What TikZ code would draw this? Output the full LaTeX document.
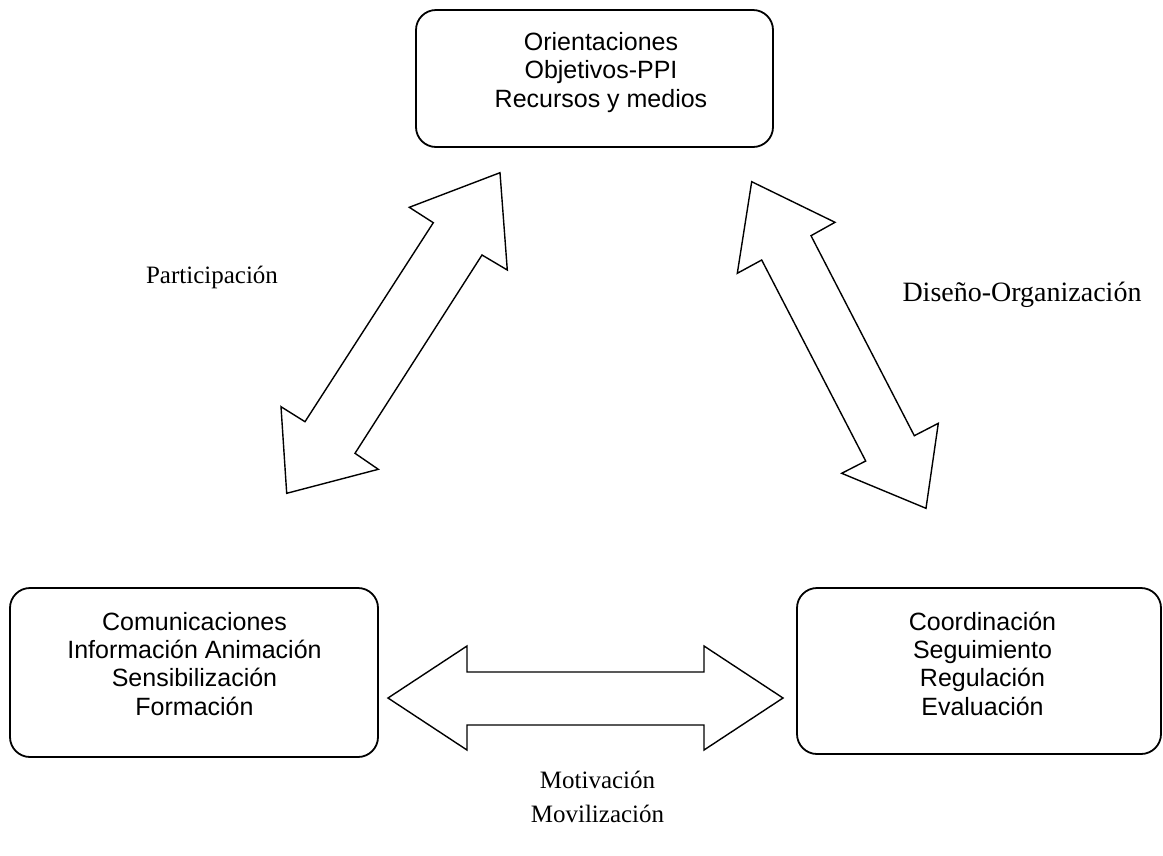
\documentclass[tikz,border=0pt]{standalone}
\usepackage{fontspec}
\setmainfont{Liberation Serif}
\setsansfont{Liberation Sans}
\begin{document}
\begin{tikzpicture}[x=1pt,y=-1pt,
  panel/.style={draw=black,line width=1.8pt,rounded corners=20pt},
  paneltext/.style={align=center,anchor=base,inner sep=0pt,
    font=\sffamily\fontsize{25}{28.2}\selectfont},
  blockarrow/.style={draw=black,line width=1.4pt,fill=white,line join=miter},
  caption/.style={anchor=base,inner sep=0pt,font=\rmfamily\fontsize{25}{34}\selectfont}]
\useasboundingbox (0,0) rectangle (1163,855);

% the three panels
\draw[panel] (416,10) rectangle (773,147);
\draw[panel] (10,588) rectangle (378,757);
\draw[panel] (797,588) rectangle (1161,754);
\coordinate (topbox) at (594.5,78.5);
\coordinate (leftbox) at (194,672.5);
\coordinate (rightbox) at (979,671);

% panel texts, placed by the baseline of their last line
\node[paneltext] (toptext) at (601,107) {Orientaciones\\Objetivos-PPI\\Recursos y medios};
\node[paneltext] (lefttext) at (194.5,715) {Comunicaciones\\Información Animación\\Sensibilización\\Formación};
\node[paneltext] (righttext) at (982.5,715) {Coordinación\\Seguimiento\\Regulación\\Evaluación};

% left diagonal double arrow
\coordinate (a1) at (500,172.7);
\coordinate (a2) at (409.3,207.3);
\coordinate (a3) at (433.3,222.7);
\coordinate (a4) at (305,421.7);
\coordinate (a5) at (281,406.7);
\coordinate (a6) at (286.7,493.3);
\coordinate (a7) at (378.3,469.3);
\coordinate (a8) at (355,453.3);
\coordinate (a9) at (482,255);
\coordinate (a10) at (507.3,270);
\draw[blockarrow] (a1) -- (a2) -- (a3) -- (a4) -- (a5) -- (a6) -- (a7) -- (a8) -- (a9) -- (a10) -- cycle;

% right diagonal double arrow
\coordinate (b1) at (751.7,181.7);
\coordinate (b2) at (835,222.3);
\coordinate (b3) at (811,235.7);
\coordinate (b4) at (914.3,435.7);
\coordinate (b5) at (938.3,423.3);
\coordinate (b6) at (926,508.3);
\coordinate (b7) at (841.7,473.3);
\coordinate (b8) at (865.7,461);
\coordinate (b9) at (761.7,260);
\coordinate (b10) at (737.3,273.3);
\draw[blockarrow] (b1) -- (b2) -- (b3) -- (b4) -- (b5) -- (b6) -- (b7) -- (b8) -- (b9) -- (b10) -- cycle;

% horizontal double arrow
\coordinate (c1) at (388,698);
\coordinate (c2) at (467,646);
\coordinate (c3) at (467,672);
\coordinate (c4) at (704,672);
\coordinate (c5) at (704,646);
\coordinate (c6) at (783,698);
\coordinate (c7) at (704,750);
\coordinate (c8) at (704,725);
\coordinate (c9) at (467,725);
\coordinate (c10) at (467,750);
\draw[blockarrow] (c1) -- (c2) -- (c3) -- (c4) -- (c5) -- (c6) -- (c7) -- (c8) -- (c9) -- (c10) -- cycle;

% captions
\node[caption] (part) at (212,283) {Participación};
\node[caption,font=\rmfamily\fontsize{28}{34}\selectfont] (dise) at (1022,301) {Diseño-Organización};
\node[caption] (moti) at (597.5,788) {Motivación};
\node[caption] (movi) at (597.5,822) {Movilización};
\end{tikzpicture}
\end{document}
